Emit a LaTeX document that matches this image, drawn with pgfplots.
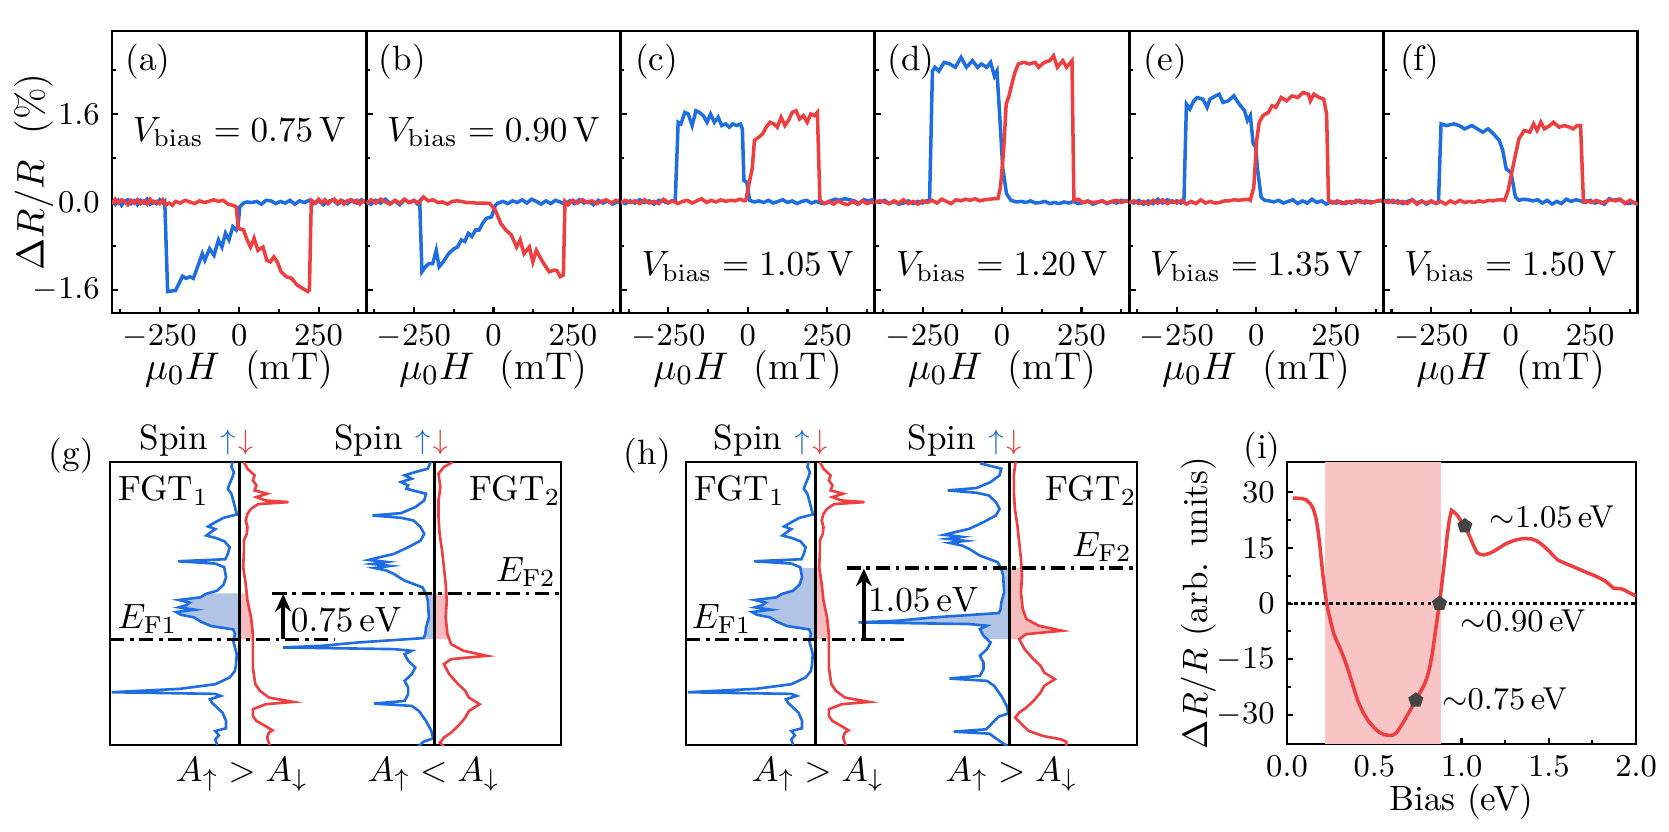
\documentclass[border=0pt]{standalone}
\usepackage{pgfplots}
\pgfplotsset{compat=1.18}
\usepackage{pgfplotstable}
\usetikzlibrary{arrows.meta}

\definecolor{upblue}{RGB}{30,110,225}
\definecolor{dnred}{RGB}{238,62,64}
\definecolor{bluefill}{RGB}{178,196,230}
\definecolor{redfill}{RGB}{246,188,190}
\definecolor{band}{RGB}{248,196,196}
\definecolor{markgray}{RGB}{68,68,68}

\newcommand{\tfont}{\fontsize{9}{10}\selectfont}
\newcommand{\mfont}{\fontsize{10}{12}\selectfont}
\newcommand{\lfont}{\fontsize{11}{13}\selectfont}
\newcommand{\spin}{Spin\hspace{3.5pt}\textcolor{upblue}{\footnotesize$\uparrow$}\hspace{0.8pt}\textcolor{dnred}{\footnotesize$\downarrow$}}

\tikzset{dd/.style={line width=0.9pt, dash pattern=on 4pt off 1.6pt on 1.1pt off 1.6pt}}

\pgfplotsset{
  base/.style={scale only axis, axis line style={line width=0.8pt},
    tick align=inside, tick style={black, line width=0.6pt},
    major tick length=1.8pt, minor tick length=1.1pt,
    tick label style={font=\tfont}, label style={font=\lfont},
    clip mode=individual},
  mr/.style={base, width=25.43mm, height=28.2mm,
    xmin=-400, xmax=400, ymin=-2.02, ymax=3.11,
    xtick={-250,0,250}, minor xtick={-375,-125,125,375},
    ytick={-1.6,0,1.6}, minor ytick={-0.8,0.8,2.4},
    xtick pos=lower, ytick pos=left,
    xlabel={$\mu_0H$\ \ (mT)},
    xlabel style={at={(axis description cs:0.5,-0.2)}, anchor=center},
    every axis plot/.append style={line width=1.0pt}},
  dos/.style={base, height=28.3mm, xtick=\empty, ytick=\empty,
    ymin=185, ymax=1032, y dir=reverse,
    every axis plot/.append style={line width=0.75pt}},
}

% spin-resolved DOS, e = energy axis (pixels of the sketch), d = offset from the zero line
\pgfplotstableread{
e d
185 -20
200 -23
215 -16
230 -20
250 -28
265 -33
280 -23
300 -18
320 -13
342 -8
352 -45
365 -68
378 -88
386 -68
396 -82
405 -93
412 -68
422 -43
440 -28
460 -33
476 -40
482 -173
489 -68
500 -43
530 -38
552 -45
570 -63
580 -95
590 -110
598 -170
606 -140
614 -150
620 -170
627 -125
634 -178
642 -165
650 -128
662 -110
676 -80
686 -18
700 -13
720 -18
740 -13
760 -8
790 -10
810 -13
830 -28
850 -68
864 -168
874 -358
879 -68
885 -53
895 -83
905 -78
915 -68
935 -48
960 -38
982 -38
990 -68
1003 -58
1015 -68
1032 -63
}\dosAup
\pgfplotstableread{
e d
185 12
205 22
225 42
240 37
255 47
270 42
280 77
290 47
300 72
305 137
311 52
325 32
340 22
360 17
380 22
400 20
420 12
450 12
500 10
550 17
600 22
650 32
700 37
750 37
800 37
850 44
870 57
890 82
903 150
910 72
925 37
945 37
960 47
975 72
988 92
995 82
1010 77
1032 84
}\dosAdn
\pgfplotstableread{
e d
185 -10
205 -18
215 -53
225 -83
235 -63
245 -93
255 -73
265 -78
280 -23
300 -28
320 -53
338 -93
345 -173
352 -93
360 -58
380 -38
400 -28
420 -38
440 -73
460 -113
470 -153
478 -183
484 -133
490 -173
496 -123
502 -168
510 -133
520 -113
540 -83
560 -33
580 -23
600 -18
650 -15
680 -23
700 -25
712 -30
718 -113
725 -213
735 -313
740 -423
745 -113
750 -63
760 -83
780 -73
800 -53
820 -63
840 -83
860 -73
880 -73
900 -83
908 -168
915 -63
930 -43
960 -23
990 -8
1012 -3
1022 -30
1032 -40
1050 -56
1060 -66
1067 -156
1073 -56
1085 -41
1100 -21
1110 -6
}\dosBup
\pgfplotstableread{
e d
185 52
200 27
220 12
260 17
300 12
350 12
400 15
450 22
500 27
550 32
600 35
650 32
700 37
730 47
750 82
765 147
775 47
790 27
820 42
850 67
870 87
890 97
910 127
930 97
950 87
975 67
995 47
1010 27
1025 16
1045 34
1065 54
1080 94
1090 144
1097 159
1110 159
}\dosBdn

\begin{document}
\begin{tikzpicture}
\path[use as bounding box] (0,0) rectangle (166.9mm,83.1mm);

% ---------------- (a) ----------------
\begin{axis}[mr, at={(11.2mm,51.8mm)}, yticklabels={$-1.6$,$0.0$,$1.6$},
  ylabel={$\Delta R/R$\ \ (\%)},
  ylabel style={at={(axis description cs:-0.307,0.5)}, anchor=center}]
\addplot[upblue] coordinates {(-400,0.02)(-390,-0.04)(-380,0.03)(-370,-0.06)(-360,0.01)(-350,0.04)(-340,-0.03)(-330,0.02)(-320,-0.05)(-310,0.03)(-300,-0.02)(-290,0.05)(-280,-0.04)(-270,0.01)(-260,-0.03)(-250,0.04)(-240,-0.02)(-234,0.01)(-225,-1.63)(-200,-1.61)(-189,-1.48)(-178,-1.35)(-167,-1.39)(-155,-1.36)(-144,-1.39)(-127,-1.12)(-116,-0.94)(-108,-1.06)(-93,-0.85)(-79,-0.97)(-65,-0.69)(-54,-0.82)(-43,-0.57)(-32,-0.69)(-20,-0.45)(-9,-0.51)(-3,-0.42)(2,-0.09)(14,-0.02)(25,0.00)(40,-0.01)(55,0.01)(70,-0.04)(85,0.03)(100,0.02)(115,-0.03)(130,0.01)(145,-0.02)(160,0.03)(175,-0.04)(190,0.02)(205,-0.01)(220,0.03)(235,-0.03)(250,0.02)(265,-0.05)(280,0.01)(295,0.04)(310,-0.04)(325,0.02)(340,-0.03)(355,0.03)(370,-0.02)(385,0.04)(400,-0.02)};
\addplot[dnred] coordinates {(-400,-0.04)(-390,0.05)(-380,-0.02)(-370,0.04)(-360,0.01)(-350,-0.05)(-340,0.03)(-330,-0.02)(-320,0.04)(-310,-0.03)(-300,0.02)(-290,-0.04)(-280,0.05)(-270,-0.02)(-260,0.01)(-250,-0.03)(-240,0.04)(-230,-0.05)(-220,-0.02)(-210,-0.06)(-200,0.01)(-185,-0.02)(-170,0.03)(-155,0.00)(-140,-0.03)(-125,0.02)(-110,-0.01)(-95,0.01)(-80,0.04)(-65,0.01)(-50,0.03)(-35,-0.04)(-20,-0.06)(-9,-0.09)(-3,-0.48)(14,-0.51)(25,-0.69)(36,-0.82)(47,-0.66)(59,-0.88)(75,-0.82)(87,-1.06)(98,-1.09)(109,-1.00)(120,-1.09)(132,-1.27)(149,-1.36)(165,-1.39)(182,-1.51)(199,-1.57)(216,-1.63)(221,-1.60)(227,0.03)(240,-0.02)(250,0.05)(260,-0.01)(270,0.04)(280,-0.03)(290,0.02)(300,0.05)(310,-0.02)(320,0.03)(330,-0.04)(340,0.02)(350,0.04)(360,0.00)(370,0.03)(380,-0.04)(390,0.02)(400,-0.01)};
\node[font=\mfont] at (axis description cs:0.142,0.89) {(a)};
\node[font=\mfont] at (axis description cs:0.5,0.643) {$V_{\mathrm{bias}}=0.75$\,V};
\end{axis}

% ---------------- (b) ----------------
\begin{axis}[mr, at={(36.63mm,51.8mm)}, yticklabels={}]
\addplot[upblue] coordinates {(-400,0.01)(-385,-0.04)(-370,0.03)(-355,-0.02)(-340,0.05)(-325,-0.03)(-310,0.02)(-295,-0.05)(-280,0.04)(-265,-0.01)(-250,0.03)(-240,-0.03)(-232,0.02)(-225,-1.27)(-214,-1.18)(-203,-1.12)(-191,-1.12)(-180,-0.88)(-171,-1.18)(-158,-1.09)(-141,-0.94)(-124,-0.85)(-113,-0.82)(-101,-0.69)(-90,-0.72)(-79,-0.57)(-68,-0.63)(-56,-0.51)(-45,-0.51)(-34,-0.39)(-23,-0.30)(-6,-0.27)(6,-0.06)(15,-0.02)(30,0.01)(45,-0.03)(60,0.02)(75,-0.01)(90,0.04)(105,-0.02)(120,0.05)(135,0.01)(150,-0.04)(165,0.02)(180,-0.03)(195,0.03)(210,0.00)(225,-0.04)(240,0.02)(255,-0.03)(270,0.04)(285,-0.02)(300,0.01)(315,-0.05)(330,0.03)(345,-0.02)(360,0.02)(375,-0.04)(390,0.01)(400,-0.03)};
\addplot[dnred] coordinates {(-400,-0.03)(-385,0.04)(-370,-0.02)(-355,0.05)(-340,0.00)(-325,-0.04)(-310,0.03)(-295,-0.02)(-280,0.05)(-265,-0.01)(-250,0.02)(-235,-0.02)(-220,0.09)(-205,0.02)(-190,0.04)(-175,-0.01)(-160,0.00)(-145,-0.04)(-130,0.01)(-115,0.02)(-100,0.01)(-85,-0.01)(-70,-0.01)(-55,-0.02)(-40,-0.02)(-25,-0.02)(-11,-0.03)(6,-0.15)(23,-0.39)(39,-0.51)(56,-0.60)(73,-0.82)(84,-0.69)(96,-0.94)(113,-0.82)(124,-1.09)(135,-0.88)(146,-1.00)(158,-1.12)(175,-1.27)(191,-1.24)(200,-1.25)(210,-1.36)(220,-1.33)(225,0.01)(235,-0.05)(250,0.03)(265,-0.02)(280,0.04)(295,-0.01)(310,0.02)(325,-0.03)(340,0.01)(355,0.04)(370,-0.02)(385,0.03)(400,0.01)};
\node[font=\mfont] at (axis description cs:0.142,0.89) {(b)};
\node[font=\mfont] at (axis description cs:0.5,0.643) {$V_{\mathrm{bias}}=0.90$\,V};
\end{axis}

% ---------------- (c) ----------------
\begin{axis}[mr, at={(62.06mm,51.8mm)}, yticklabels={}]
\addplot[upblue] coordinates {(-400,0.01)(-385,-0.03)(-370,0.02)(-355,-0.02)(-340,0.04)(-325,-0.01)(-310,0.02)(-295,-0.04)(-280,0.03)(-265,0.01)(-250,-0.02)(-240,0.02)(-228,0.03)(-219,1.45)(-210,1.42)(-198,1.63)(-187,1.60)(-175,1.39)(-163,1.66)(-152,1.63)(-140,1.57)(-128,1.45)(-117,1.60)(-105,1.45)(-93,1.54)(-82,1.39)(-70,1.42)(-58,1.36)(-47,1.42)(-35,1.39)(-23,1.42)(-17,1.33)(-12,0.39)(-3,0.36)(6,0.03)(20,0.00)(35,0.02)(50,-0.01)(65,0.03)(80,-0.02)(95,0.01)(110,0.04)(125,-0.01)(140,0.02)(155,-0.03)(170,0.01)(185,0.03)(200,-0.02)(215,0.01)(230,-0.02)(245,-0.03)(260,0.02)(275,0.05)(290,0.03)(305,0.06)(320,0.04)(335,0.02)(350,-0.03)(365,0.04)(380,0.02)(400,0.05)};
\addplot[dnred] coordinates {(-400,-0.02)(-385,0.03)(-370,-0.01)(-355,0.02)(-340,-0.03)(-325,0.04)(-310,-0.02)(-295,0.01)(-280,-0.03)(-265,0.05)(-250,-0.01)(-235,0.02)(-220,-0.03)(-205,0.01)(-190,0.03)(-175,-0.02)(-160,0.02)(-145,0.06)(-130,-0.01)(-115,0.03)(-100,0.00)(-85,0.04)(-70,0.01)(-55,0.03)(-40,0.02)(-25,0.05)(-10,0.02)(-6,0.03)(6,0.39)(14,0.60)(21,1.12)(35,1.18)(47,1.24)(58,1.36)(70,1.45)(82,1.42)(93,1.36)(105,1.54)(117,1.39)(128,1.48)(140,1.63)(152,1.66)(163,1.51)(175,1.57)(187,1.45)(198,1.60)(210,1.57)(219,1.63)(227,0.03)(240,-0.03)(255,0.01)(270,-0.04)(285,0.02)(300,-0.03)(315,-0.05)(330,0.01)(345,-0.04)(360,0.02)(375,-0.03)(390,0.00)(400,-0.02)};
\node[font=\mfont] at (axis description cs:0.142,0.89) {(c)};
\node[font=\mfont] at (axis description cs:0.5,0.165) {$V_{\mathrm{bias}}=1.05$\,V};
\end{axis}

% ---------------- (d) ----------------
\begin{axis}[mr, at={(87.49mm,51.8mm)}, yticklabels={}]
\addplot[upblue] coordinates {(-400,0.02)(-385,-0.01)(-370,0.03)(-355,-0.03)(-340,0.01)(-325,-0.04)(-310,-0.02)(-295,0.02)(-280,-0.03)(-265,0.01)(-250,-0.02)(-238,0.02)(-228,0.03)(-219,2.38)(-211,2.45)(-199,2.38)(-182,2.54)(-164,2.51)(-147,2.45)(-129,2.63)(-112,2.45)(-93,2.57)(-77,2.45)(-65,2.51)(-48,2.45)(-36,2.54)(-24,2.29)(-16,2.38)(-7,1.54)(2,0.63)(14,0.15)(28,0.03)(45,0.00)(60,0.01)(75,-0.01)(90,0.02)(105,-0.02)(120,-0.01)(135,0.01)(150,-0.03)(165,-0.01)(180,-0.03)(195,0.00)(210,-0.02)(225,0.01)(240,-0.03)(255,-0.01)(270,0.02)(285,-0.04)(300,-0.01)(315,0.02)(330,-0.03)(345,0.01)(360,-0.02)(375,0.03)(390,0.01)(400,0.02)};
\addplot[dnred] coordinates {(-400,-0.01)(-385,0.02)(-370,0.00)(-355,-0.03)(-340,0.02)(-325,-0.02)(-310,0.04)(-295,-0.03)(-280,0.01)(-265,-0.04)(-250,0.02)(-235,-0.01)(-220,0.03)(-205,-0.02)(-190,0.05)(-175,0.01)(-160,-0.03)(-145,0.04)(-130,0.02)(-115,0.05)(-100,0.03)(-85,0.06)(-70,0.02)(-55,0.04)(-40,0.05)(-25,0.06)(-13,0.06)(-5,0.27)(5,0.94)(13,1.78)(22,1.93)(28,2.08)(40,2.35)(51,2.51)(69,2.54)(86,2.51)(104,2.54)(115,2.45)(133,2.54)(150,2.57)(162,2.66)(174,2.45)(191,2.57)(203,2.45)(220,2.57)(226,0.03)(240,0.05)(255,-0.01)(270,0.01)(285,-0.01)(300,0.00)(315,0.02)(330,-0.02)(345,0.01)(360,0.03)(375,-0.01)(390,0.02)(400,0.01)};
\node[font=\mfont] at (axis description cs:0.142,0.89) {(d)};
\node[font=\mfont] at (axis description cs:0.5,0.165) {$V_{\mathrm{bias}}=1.20$\,V};
\end{axis}

% ---------------- (e) ----------------
\begin{axis}[mr, at={(112.92mm,51.8mm)}, yticklabels={}]
\addplot[upblue] coordinates {(-400,0.01)(-385,-0.02)(-370,0.03)(-355,-0.04)(-340,0.02)(-325,-0.03)(-310,0.05)(-295,-0.02)(-280,0.04)(-265,-0.01)(-250,0.02)(-238,-0.02)(-228,0.00)(-220,1.78)(-209,1.69)(-197,1.84)(-186,1.90)(-168,1.87)(-155,1.72)(-146,1.87)(-128,1.93)(-117,1.96)(-105,1.81)(-88,1.84)(-71,1.93)(-54,1.78)(-37,1.66)(-28,1.48)(-19,1.57)(-10,1.06)(-2,1.00)(3,0.63)(15,0.09)(26,0.03)(40,0.02)(55,0.00)(70,0.03)(85,-0.02)(100,0.01)(115,0.04)(130,-0.03)(145,0.02)(160,-0.02)(175,0.05)(190,-0.01)(205,0.02)(220,-0.04)(235,0.01)(250,-0.02)(265,0.00)(280,-0.03)(295,0.01)(310,-0.01)(325,0.03)(340,-0.02)(355,0.01)(370,0.00)(385,0.02)(400,0.03)};
\addplot[dnred] coordinates {(-400,-0.02)(-385,0.02)(-370,-0.03)(-355,0.01)(-340,-0.04)(-325,0.03)(-310,-0.02)(-295,0.04)(-280,-0.03)(-265,0.02)(-250,-0.02)(-235,0.03)(-220,-0.04)(-205,0.01)(-190,-0.03)(-175,0.04)(-160,-0.02)(-145,0.01)(-130,-0.02)(-115,-0.01)(-100,0.02)(-85,0.02)(-70,0.04)(-55,0.03)(-40,0.04)(-25,0.05)(-19,0.03)(-8,0.27)(1,1.12)(9,1.45)(21,1.57)(38,1.63)(49,1.75)(61,1.72)(78,1.90)(95,1.84)(112,1.93)(130,1.90)(147,1.99)(164,1.96)(170,1.84)(181,1.96)(198,1.90)(212,1.87)(221,1.60)(227,0.03)(240,-0.02)(255,0.02)(270,-0.03)(285,0.01)(300,-0.02)(315,0.03)(330,-0.01)(345,0.02)(360,-0.02)(375,0.01)(390,0.03)(400,0.00)};
\node[font=\mfont] at (axis description cs:0.142,0.89) {(e)};
\node[font=\mfont] at (axis description cs:0.5,0.165) {$V_{\mathrm{bias}}=1.35$\,V};
\end{axis}

% ---------------- (f) ----------------
\begin{axis}[mr, at={(138.35mm,51.8mm)}, yticklabels={}]
\addplot[upblue] coordinates {(-400,0.01)(-385,0.03)(-370,-0.01)(-355,0.02)(-340,-0.03)(-325,0.01)(-310,0.04)(-295,-0.02)(-280,0.02)(-265,-0.04)(-250,0.01)(-238,-0.02)(-227,0.00)(-219,1.42)(-202,1.39)(-179,1.42)(-162,1.39)(-145,1.33)(-122,1.39)(-105,1.33)(-88,1.27)(-71,1.33)(-54,1.24)(-36,1.12)(-25,0.94)(-14,0.60)(1,0.54)(15,0.09)(26,0.03)(40,0.05)(55,0.04)(70,0.02)(85,0.04)(100,-0.02)(115,0.03)(130,-0.04)(145,0.01)(160,-0.03)(175,0.05)(190,0.01)(205,0.04)(220,0.02)(235,-0.01)(250,0.03)(265,-0.02)(280,0.01)(295,-0.04)(310,0.06)(325,0.03)(340,0.05)(355,0.00)(370,-0.03)(385,-0.01)(400,-0.04)};
\addplot[dnred] coordinates {(-400,0.02)(-385,-0.01)(-370,0.03)(-355,-0.02)(-340,0.01)(-325,-0.03)(-310,0.04)(-295,-0.04)(-280,0.01)(-265,-0.02)(-250,0.02)(-235,-0.03)(-220,0.01)(-205,-0.04)(-190,0.02)(-175,-0.02)(-160,0.03)(-145,-0.01)(-130,0.01)(-115,-0.01)(-100,0.02)(-85,0.00)(-70,0.03)(-55,0.02)(-40,0.04)(-25,0.04)(-19,0.03)(-8,0.21)(9,0.69)(26,1.15)(43,1.30)(60,1.27)(72,1.42)(83,1.30)(95,1.45)(106,1.33)(123,1.39)(135,1.45)(152,1.36)(169,1.39)(186,1.36)(197,1.33)(209,1.39)(220,1.39)(229,0.00)(240,0.02)(255,-0.01)(270,0.03)(285,-0.02)(300,0.01)(315,0.04)(330,0.02)(345,0.05)(360,-0.03)(375,0.03)(390,-0.02)(400,-0.04)};
\node[font=\mfont] at (axis description cs:0.142,0.89) {(f)};
\node[font=\mfont] at (axis description cs:0.5,0.165) {$V_{\mathrm{bias}}=1.50$\,V};
\end{axis}

% ---------------- (g) ----------------
\begin{axis}[dos, at={(11.0mm,8.6mm)}, width=45.1mm, xmin=305, xmax=1568]
% occupied-state windows between E_F1 and E_F1+eV
\addplot[fill=bluefill, draw=none] table[x expr=668+\thisrow{d}, y=e] {
e d
578 0
578 -92
590 -110
598 -170
606 -140
614 -150
620 -170
627 -125
634 -178
642 -165
650 -128
662 -110
676 -80
686 -18
700 -13
715 -17
715 0
};
\addplot[fill=redfill, draw=none] table[x expr=668+\thisrow{d}, y=e] {
e d
578 0
578 20
600 22
650 32
700 37
715 37
715 0
};
\addplot[fill=bluefill, draw=none] table[x expr=1213+\thisrow{d}, y=e] {
e d
578 0
578 -23
600 -18
650 -15
680 -23
700 -25
712 -30
715 -40
715 0
};
\addplot[fill=redfill, draw=none] table[x expr=1213+\thisrow{d}, y=e] {
e d
578 0
578 34
600 35
650 32
700 37
715 40
715 0
};
\addplot[upblue] table[x expr=668+\thisrow{d}, y=e] {\dosAup};
\addplot[dnred] table[x expr=668+\thisrow{d}, y=e] {\dosAdn};
\addplot[upblue] table[x expr=1213+\thisrow{d}, y=e] {\dosBup};
\addplot[dnred] table[x expr=1213+\thisrow{d}, y=e] {\dosBdn};
\addplot[black, line width=0.8pt] coordinates {(668,185) (668,1032)};
\addplot[black, line width=0.8pt] coordinates {(1213,185) (1213,1032)};
\addplot[black, dd] coordinates {(305,715) (935,715)};
\addplot[black, dd] coordinates {(760,578) (1568,578)};
\addplot[black, line width=1.3pt, -{Stealth[length=5pt,width=4.5pt]}] coordinates {(790,715) (790,580)};
\node[font=\mfont] at (axis cs:197,165) {(g)};
\node[font=\mfont] at (axis cs:547,120) {\spin};
\node[font=\mfont] at (axis cs:1092,120) {\spin};
\node[font=\mfont] at (axis cs:455,270) {FGT$_1$};
\node[font=\mfont] at (axis cs:1440,270) {FGT$_2$};
\node[font=\mfont] at (axis cs:410,655) {$E_{\mathrm{F1}}$};
\node[font=\mfont] at (axis cs:1470,515) {$E_{\mathrm{F2}}$};
\node[font=\mfont] at (axis cs:967,655) {$0.75\,\mathrm{eV}$};
\node[font=\mfont] at (axis cs:675,1120) {$A_\uparrow > A_\downarrow$};
\node[font=\mfont] at (axis cs:1212,1120) {$A_\uparrow < A_\downarrow$};
\end{axis}

% ---------------- (h) ----------------
\begin{axis}[dos, at={(68.6mm,8.6mm)}, width=45.1mm, xmin=350, xmax=1613]
\addplot[fill=bluefill, draw=none] table[x expr=713+\thisrow{d}, y=e] {
e d
502 0
502 -43
530 -38
552 -45
570 -63
580 -95
590 -110
598 -170
606 -140
614 -150
620 -170
627 -125
634 -178
642 -165
650 -128
662 -110
676 -80
686 -18
700 -13
715 -17
715 0
};
\addplot[fill=redfill, draw=none] table[x expr=713+\thisrow{d}, y=e] {
e d
502 0
502 10
550 17
600 22
650 32
700 37
715 37
715 0
};
\addplot[fill=bluefill, draw=none] table[x expr=1256+\thisrow{d}, y=e] {
e d
502 0
502 -23
525 -18
575 -15
605 -23
625 -25
637 -30
643 -113
650 -213
660 -313
665 -423
670 -113
675 -63
685 -83
705 -73
715 -63
715 0
};
\addplot[fill=redfill, draw=none] table[x expr=1256+\thisrow{d}, y=e] {
e d
502 0
502 34
525 35
575 32
625 37
655 47
675 82
690 147
700 47
715 27
715 0
};
\addplot[upblue] table[x expr=713+\thisrow{d}, y=e] {\dosAup};
\addplot[dnred] table[x expr=713+\thisrow{d}, y=e] {\dosAdn};
\addplot[upblue] table[x expr=1256+\thisrow{d}, y expr=\thisrow{e}-75] {\dosBup};
\addplot[dnred] table[x expr=1256+\thisrow{d}, y expr=\thisrow{e}-75] {\dosBdn};
\addplot[black, line width=0.8pt] coordinates {(713,185) (713,1032)};
\addplot[black, line width=0.8pt] coordinates {(1256,185) (1256,1032)};
\addplot[black, dd] coordinates {(350,715) (975,715)};
\addplot[black, dd] coordinates {(800,502) (1613,502)};
\addplot[black, line width=1.3pt, -{Stealth[length=5pt,width=4.5pt]}] coordinates {(848,715) (848,504)};
\node[font=\mfont] at (axis cs:242,165) {(h)};
\node[font=\mfont] at (axis cs:587,120) {\spin};
\node[font=\mfont] at (axis cs:1130,120) {\spin};
\node[font=\mfont] at (axis cs:500,270) {FGT$_1$};
\node[font=\mfont] at (axis cs:1485,270) {FGT$_2$};
\node[font=\mfont] at (axis cs:450,655) {$E_{\mathrm{F1}}$};
\node[font=\mfont] at (axis cs:1515,440) {$E_{\mathrm{F2}}$};
\node[font=\mfont] at (axis cs:1015,595) {$1.05\,\mathrm{eV}$};
\node[font=\mfont] at (axis cs:720,1120) {$A_\uparrow > A_\downarrow$};
\node[font=\mfont] at (axis cs:1262,1120) {$A_\uparrow > A_\downarrow$};
\end{axis}

% ---------------- (i) ----------------
\begin{axis}[base, at={(128.7mm,8.7mm)}, width=34.9mm, height=28.2mm,
  xmin=0, xmax=2, ymin=-37.8, ymax=38.1,
  xtick={0,0.5,1,1.5,2}, minor xtick={0.25,0.75,1.25,1.75},
  ytick={-30,-15,0,15,30}, minor ytick={-22.5,-7.5,7.5,22.5},
  xtick pos=lower, ytick pos=left,
  xticklabel style={/pgf/number format/.cd, fixed, fixed zerofill, precision=1},
  label style={font=\mfont},
  xlabel={Bias (eV)}, ylabel={$\Delta R/R$ (arb. units)},
  xlabel style={at={(axis description cs:0.5,-0.206)}, anchor=center},
  ylabel style={at={(axis description cs:-0.254,0.5)}, anchor=center}]
\addplot[fill=band, draw=none] coordinates {(0.217,-37.8) (0.884,-37.8) (0.884,38.1) (0.217,38.1)};
\addplot[black, line width=1pt, densely dotted] coordinates {(0,0) (2,0)};
\addplot[dnred, line width=1pt] table {
x y
0.034 28.4
0.084 28.3
0.110 27.9
0.135 26.8
0.152 25.3
0.165 23.2
0.175 20.5
0.185 16.9
0.195 12.5
0.205 7.9
0.215 4.0
0.225 0.7
0.235 -1.8
0.245 -3.8
0.257 -6.2
0.269 -8.3
0.287 -10.3
0.306 -12.3
0.326 -14.6
0.346 -17.2
0.376 -21.8
0.406 -26.2
0.436 -29.3
0.466 -31.6
0.497 -33.3
0.527 -34.6
0.557 -35.3
0.587 -35.5
0.607 -35.4
0.627 -34.8
0.657 -32.7
0.687 -30.3
0.712 -28.2
0.738 -26.0
0.763 -23.9
0.788 -21.7
0.803 -19.8
0.818 -17.2
0.833 -13.3
0.848 -8.3
0.861 -4.0
0.874 0.0
0.886 4.8
0.898 9.7
0.909 14.3
0.919 18.7
0.930 22.5
0.943 25.1
0.960 24.5
0.979 23.6
1.000 22.0
1.019 20.9
1.034 19.3
1.049 17.8
1.069 15.6
1.089 13.7
1.110 13.2
1.130 13.1
1.160 13.5
1.190 14.2
1.220 15.1
1.250 16.0
1.300 17.0
1.351 17.5
1.400 17.4
1.431 16.9
1.461 15.9
1.491 14.6
1.522 13.1
1.552 11.7
1.600 10.7
1.652 9.7
1.700 8.7
1.753 7.7
1.790 6.9
1.823 6.1
1.850 5.0
1.873 4.1
1.913 4.0
1.935 3.6
1.954 3.1
1.980 2.5
2.000 2.0
};
\addplot[only marks, mark=pentagon*, mark size=2pt, mark options={fill=markgray, draw=markgray}] coordinates {(0.738,-26.0) (0.874,0) (1.019,20.9)};
\node[font=\tfont, anchor=west] at (axis cs:1.089,23.3) {${\sim}1.05\,$eV};
\node[font=\tfont, anchor=west] at (axis cs:0.923,-4.6) {${\sim}0.90\,$eV};
\node[font=\tfont, anchor=west] at (axis cs:0.819,-25.8) {${\sim}0.75\,$eV};
\node[font=\mfont] at (axis description cs:-0.072,1.045) {(i)};
\end{axis}
\end{tikzpicture}
\end{document}
